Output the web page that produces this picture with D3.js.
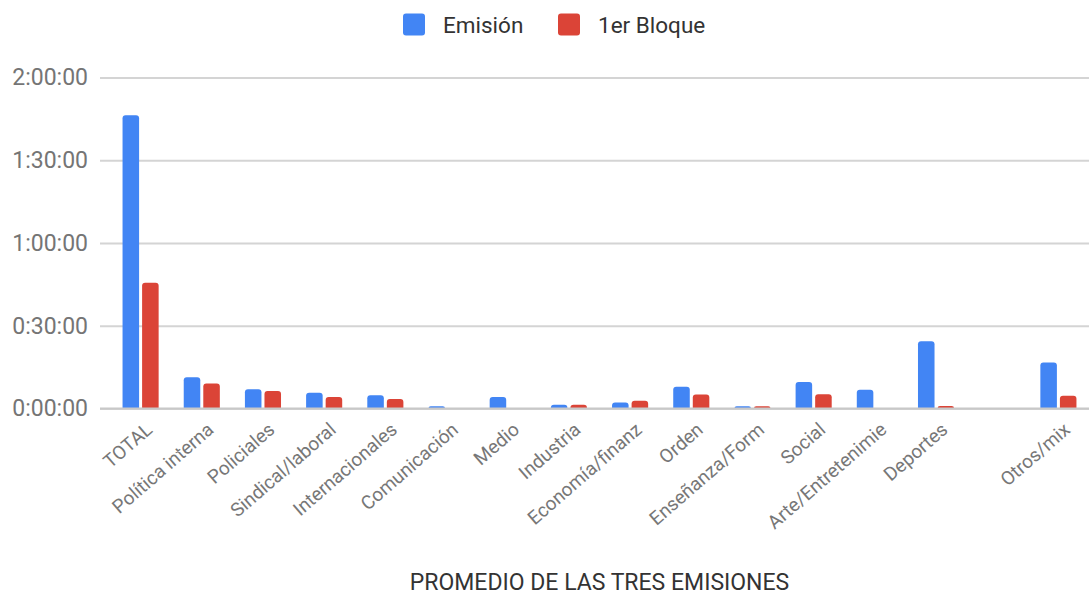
<!DOCTYPE html>
<html><head><meta charset="utf-8">
<script src="https://cdn.jsdelivr.net/npm/d3@7"></script>
<style>
html,body{margin:0;padding:0;background:#fff;}
svg{display:block;font-family:Roboto,"Noto Sans",sans-serif;}
</style></head>
<body>
<svg id="chart" width="1089" height="596"></svg>
<script>
const categories = ["TOTAL","Política interna","Policiales","Sindical/laboral","Internacionales","Comunicación","Medio","Industria","Economía/finanz","Orden","Enseñanza/Form","Social","Arte/Entretenimie","Deportes","","Otros/mix"];
const seriesNames = ["Emisión","1er Bloque"];
const seriesColors = ["#4285F4","#DB4437"];
// values in minutes
const emision = [106.3,11.3,7.0,5.7,4.8,0.8,4.2,1.4,2.2,7.9,0.8,9.6,6.8,24.4,0,16.7];
const bloque  = [45.6,9.1,6.3,4.2,3.4,0,0,1.4,2.8,5.1,0.8,5.2,0,0.9,0,4.6];
const yTicks = [0,30,60,90,120];
const xTitle = "PROMEDIO DE LAS TRES EMISIONES";

const svg = d3.select("#chart");
const M = {left:110,right:1089,top:77.5,bottom:408.5};

const x0 = d3.scaleBand().domain(categories).range([M.left,M.right]).paddingInner(0.41).paddingOuter(0.205);
const x1 = d3.scaleBand().domain(seriesNames).range([0,x0.bandwidth()]).paddingInner(0.154);
const y = d3.scaleLinear().domain([0,120]).range([M.bottom,M.top]);

function fmt(m){const h=Math.floor(m/60), mm=m%60; return h+":"+String(mm).padStart(2,"0")+":00";}

// gridlines
const yAxis = d3.axisLeft(y).tickValues(yTicks).tickFormat(fmt).tickSize(-(M.right-100)).tickPadding(12);
const gy = svg.append("g").attr("transform",`translate(100,0)`).call(yAxis);
gy.select(".domain").remove();
gy.selectAll(".tick line").attr("stroke","#d4d4d4").attr("stroke-width",2);
gy.selectAll(".tick text").attr("fill","#757575").attr("font-size",23).attr("font-family","Roboto");

// bars
function roundTop(xp,w,yt,yb,r){
  const h=yb-yt; if(h<=0) return "";
  r=Math.min(r,h,w/2);
  return `M${xp},${yb}V${yt+r}Q${xp},${yt} ${xp+r},${yt}H${xp+w-r}Q${xp+w},${yt} ${xp+w},${yt+r}V${yb}Z`;
}
const data = categories.map((c,i)=>({cat:c, vals:[emision[i],bloque[i]]}));
const g = svg.append("g");
data.forEach((d,i)=>{
  d.vals.forEach((v,j)=>{
    if(v<=0) return;
    g.append("path")
      .attr("d",roundTop(x0(d.cat+"")+x1(seriesNames[j]), x1.bandwidth(), y(v), y(0), 3))
      .attr("fill",seriesColors[j]);
  });
});

// baseline
svg.append("line").attr("x1",100).attr("x2",M.right).attr("y1",y(0)).attr("y2",y(0)).attr("stroke","#c8c8c8").attr("stroke-width",2);

// x labels
const xAxis = d3.axisBottom(x0).tickSize(0).tickPadding(0);
const gx = svg.append("g").attr("transform",`translate(0,${M.bottom})`).call(xAxis);
gx.select(".domain").remove();
gx.selectAll(".tick text")
  .attr("fill","#777").attr("font-size",19).attr("font-family","Roboto")
  .attr("text-anchor","end").attr("dy",0).attr("y",0)
  .attr("transform","translate(13,23) rotate(-41)");

// title
svg.append("text").attr("x",(M.left+M.right)/2).attr("y",590).attr("text-anchor","middle")
  .attr("font-size",23).attr("fill","#333").text(xTitle);

// legend
const legItems = [{x:403,tx:443},{x:558,tx:598}];
seriesNames.forEach((s,i)=>{
  svg.append("rect").attr("x",legItems[i].x).attr("y",13.5).attr("width",22).attr("height",22).attr("rx",3).attr("fill",seriesColors[i]);
  svg.append("text").attr("x",legItems[i].tx).attr("y",33).attr("font-size",22.5).attr("fill","#333").text(s);
});
</script>
</body></html>
